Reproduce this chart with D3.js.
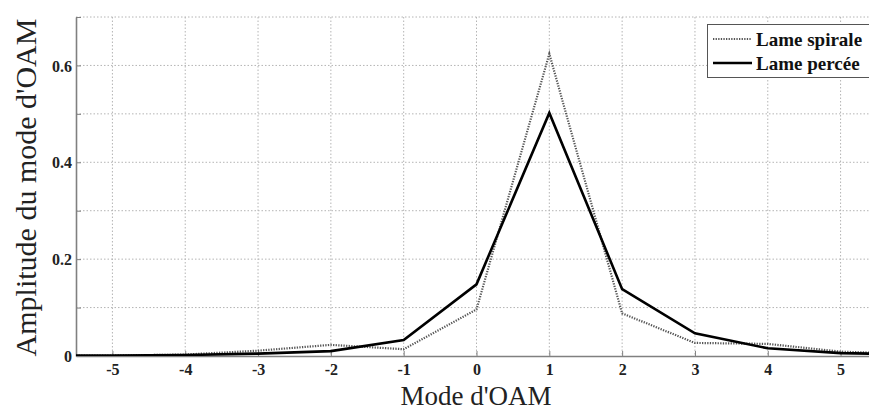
<!DOCTYPE html>
<html><head><meta charset="utf-8">
<script src="https://cdn.jsdelivr.net/npm/d3@7/dist/d3.min.js"></script>
<style>body{margin:0;background:#fff}svg{display:block}</style>
</head><body>
<svg id="c" width="869" height="412"></svg>
<script>
const modes = [-6,-5,-4,-3,-2,-1,0,1,2,3,4,5,6];
const lameSpirale = [0.001,0.001,0.003,0.011,0.023,0.014,0.096,0.624,0.088,0.027,0.025,0.009,0.004];
const lamePercee  = [0.001,0.001,0.002,0.005,0.010,0.033,0.148,0.502,0.138,0.047,0.016,0.006,0.003];
const xTicks = [-5,-4,-3,-2,-1,0,1,2,3,4,5];
const yTicks = [0,0.1,0.2,0.3,0.4,0.5,0.6,0.7];
const yLabels = [0,0.2,0.4,0.6];
const seriesNames = ["Lame spirale","Lame percée"];
const xTitle = "Mode d'OAM";
const yTitle = "Amplitude du mode d'OAM";

const svg = d3.select("#c");
const L = 76, T = 17, B = 356, R = 877;
const x = d3.scaleLinear().domain([-5.5,5.5]).range([L,R]);
const y = d3.scaleLinear().domain([0,0.7]).range([B,T]);
const font = "Liberation Serif, Times New Roman, serif";

svg.append("defs").append("clipPath").attr("id","clip")
  .append("rect").attr("x",L).attr("y",T-2).attr("width",R-L).attr("height",B-T+2);

// grid
const grid = svg.append("g");
grid.selectAll(".gx").data(xTicks).join("line")
  .attr("x1",d=>x(d)).attr("x2",d=>x(d)).attr("y1",T).attr("y2",B)
  .attr("stroke","#b4b4b4").attr("stroke-width",1).attr("stroke-dasharray","1.5,2");
grid.selectAll(".gy").data(yTicks.filter(d=>d>0)).join("line")
  .attr("x1",L).attr("x2",R).attr("y1",d=>y(d)).attr("y2",d=>y(d))
  .attr("stroke","#b4b4b4").attr("stroke-width",1).attr("stroke-dasharray","1.5,2");

// axes
const xAxis = svg.append("g").attr("transform",`translate(0,${B})`)
  .call(d3.axisBottom(x).tickValues(xTicks).tickSizeInner(-5).tickSizeOuter(0).tickPadding(8).tickFormat(d=>String(d)));
const yAxis = svg.append("g").attr("transform",`translate(${L},0)`)
  .call(d3.axisLeft(y).tickValues(yTicks).tickSizeInner(-5).tickSizeOuter(0).tickPadding(4)
    .tickFormat(d=> yLabels.some(v=>Math.abs(v-d)<1e-9) ? (d===0?"0":d3.format(".1f")(d)) : ""));
[xAxis,yAxis].forEach(a=>{
  a.attr("font-family",font);
  a.select(".domain").attr("stroke","#808080").attr("stroke-width",1.6);
  a.selectAll(".tick line").attr("stroke","#808080").attr("stroke-width",1);
  a.selectAll("text").attr("font-family",font).attr("font-size",16).attr("font-weight","bold").attr("fill","#222");
});
yAxis.selectAll("text").attr("dy","0.35em");

// lines
const line = d3.line().x((d,i)=>x(modes[i])).y(d=>y(d));
const pl = svg.append("g").attr("clip-path","url(#clip)");
pl.append("path").datum(lameSpirale).attr("d",line).attr("fill","none")
  .attr("stroke","#555").attr("stroke-width",2.2).attr("stroke-dasharray","1.3,1.3");
pl.append("path").datum(lamePercee).attr("d",line).attr("fill","none")
  .attr("stroke","#000").attr("stroke-width",2.6).attr("stroke-linejoin","miter");

// titles
svg.append("text").attr("x",476).attr("y",405).attr("text-anchor","middle")
  .attr("font-family",font).attr("font-size",27).attr("fill","#222").text(xTitle);
svg.append("text").attr("transform",`translate(36,${(T+B)/2+1}) rotate(-90)`).attr("text-anchor","middle")
  .attr("font-family",font).attr("font-size",30).attr("fill","#222").text(yTitle);

// legend
const lg = svg.append("g");
lg.append("rect").attr("x",707.5).attr("y",24.5).attr("width",170).attr("height",53)
  .attr("fill","#fff").attr("stroke","#555").attr("stroke-width",1);
const rows = [{name:seriesNames[0],dash:"1.3,1.3",w:2,c:"#555",yy:39},{name:seriesNames[1],dash:null,w:2.6,c:"#000",yy:63}];
rows.forEach(r=>{
  lg.append("line").attr("x1",713).attr("x2",752).attr("y1",r.yy).attr("y2",r.yy)
    .attr("stroke",r.c).attr("stroke-width",r.w).attr("stroke-dasharray",r.dash);
  lg.append("text").attr("x",756).attr("y",r.yy).attr("dy","0.35em")
    .attr("font-family",font).attr("font-size",19).attr("font-weight","bold").attr("fill","#111").text(r.name);
});
</script>
</body></html>
